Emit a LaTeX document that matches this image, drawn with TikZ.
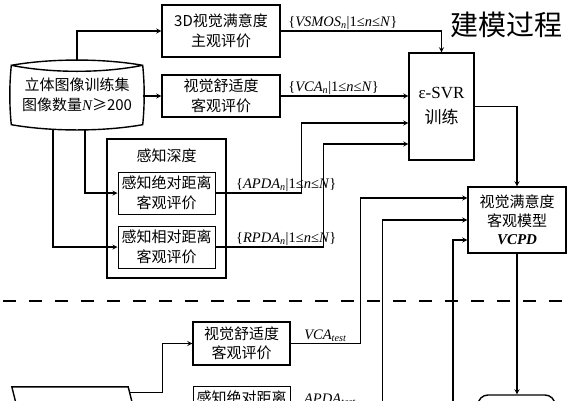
\documentclass[tikz,border=0pt]{standalone}
\usepackage{fontspec}
\setmainfont{Liberation Serif}
\newfontfamily\cjk{Noto Sans CJK SC}
\usetikzlibrary{positioning,calc,arrows}
\tikzstyle{block} = [draw, line width=1.4pt, rectangle, minimum width=118pt, minimum height=42pt, align=center, font=\fontsize{15}{19.5}\selectfont\cjk]
\tikzstyle{subblock} = [block, line width=1pt, minimum width=97pt]
\tikzstyle{arrow} = [line width=1.2pt,->,>=stealth]
\tikzstyle{setlabel} = [font=\fontsize{14.5}{16}\selectfont, inner sep=1pt]

\begin{document}
\begin{tikzpicture}[x=1pt,y=-1pt]
    \useasboundingbox (0,0) rectangle (576,400);
    \clip (0,0) rectangle (576,400);

    % modelling part
    \node[block, draw=none, minimum width=130pt, minimum height=58pt] (train) at (77,95) {立体图像训练集\\图像数量{\rmfamily\itshape N}≥200};
    \draw[line width=1.4pt] (train.north west) .. controls +(40,-7) and +(-40,-7) .. (train.north east)
        .. controls +(2,20) and +(2,-20) .. (train.south east)
        .. controls +(-40,7) and +(40,7) .. (train.south west)
        .. controls +(-2,-20) and +(-2,20) .. (train.north west)
        .. controls +(40,8) and +(-40,8) .. (train.north east);

    \node[block, minimum height=52pt] (subj) at (221,31) {3D视觉满意度\\主观评价};
    \node[block                     ] (comf) at (221,96) {视觉舒适度\\客观评价};

    \node[draw, line width=1.4pt, minimum width=119pt, minimum height=139pt] (depth) at (166.5,208.5) {};
    \node[font=\fontsize{15}{19.5}\selectfont\cjk, below=7pt of depth.north] (depthname) {感知深度};
    \node[subblock, minimum height=42pt] (abs) at (166.5,193) {感知绝对距离\\客观评价};
    \node[subblock, minimum height=42pt, below=11pt of abs] (rel) {感知相对距离\\客观评价};

    \node[block, minimum width=65pt, minimum height=107pt, font=\fontsize{17}{25}\selectfont] (svr) at (441.5,106.5) {ε-SVR\\{\cjk 训练}};
    \node[block, minimum width=98pt, minimum height=66pt, font=\fontsize{15}{18.5}\selectfont\cjk] (model) at (517,220) {视觉满意度\\客观模型\\{\rmfamily\bfseries\itshape VCPD}};

    \node[font=\fontsize{28}{30}\selectfont\cjk] (title) at (506,25) {建模过程};

    \draw[arrow] ([shift={(0,-5)}]train.north) |- (subj);
    \draw[arrow] (train.east |- comf) -- (comf);
    \draw[arrow] ([shift={(8,5)}]train.south) |- (abs);
    \draw[arrow] ([shift={(-24,4)}]train.south) |- (rel);

    \draw[arrow] (subj) -| (svr) node[pos=0, above right, setlabel, xshift=6pt] {\{\textit{VSMOS}\textsubscript{\textit{n}}|1≤\textit{n}≤\textit{N}\}};
    \draw[arrow] (comf) -- (comf -| svr.west) node[pos=0, above right, setlabel, xshift=6pt] {\{\textit{VCA}\textsubscript{\textit{n}}|1≤\textit{n}≤\textit{N}\}};
    \draw[arrow] (abs) -- ++(135,0) node[pos=0, above right, setlabel, xshift=19pt] {\{\textit{APDA}\textsubscript{\textit{n}}|1≤\textit{n}≤\textit{N}\}} |- ([yshift=-16.5pt]svr.west);
    \draw[arrow] (rel) -- ++(157,0) node[pos=0, above right, setlabel, xshift=19pt] {\{\textit{RPDA}\textsubscript{\textit{n}}|1≤\textit{n}≤\textit{N}\}} |- ([yshift=-37.5pt]svr.west);
    \draw[arrow] (svr) -| (model);

    \draw[line width=1.5pt, dash pattern=on 13pt off 13pt] (3,301) -- (572,301);

    % test part
    \node[minimum width=116pt, minimum height=50pt] (testset) at (70,412) {};
    \draw[line width=1.4pt] (testset.north west) -- (testset.north east) -- ++(12.5,50) -- ($(testset.north west)+(12.5,50)$) -- cycle;
    \node[block, minimum width=97pt, minimum height=43pt] (comftest) at (241.5,343.5) {视觉舒适度\\客观评价};
    \node[subblock, minimum height=43pt] (abstest) at (241.5,407.5) {感知绝对距离\\客观评价};
    \node[draw, line width=1.4pt, rounded corners=10pt, minimum width=77pt, minimum height=40pt] (result) at (516.5,415) {};
    \coordinate (rpdafoot) at (453,440);

    \draw[arrow] ($(testset.north east)+(1.5,6)$) -- ++(32.5,0) |- (comftest);
    \draw[arrow] (comftest) -- ++(119,0) node[pos=0, above right, setlabel, xshift=12pt] {\textit{VCA}\textsubscript{\textit{test}}} |- ([yshift=22pt]model.west);
    \draw[arrow] (abstest) -- ++(141,0) node[pos=0, above right, setlabel, xshift=12pt] {\textit{APDA}\textsubscript{\textit{test}}} |- (model.west);
    \draw[arrow] (rpdafoot) |- ([yshift=-20pt]model.west);
    \draw[arrow] (model) -- (model |- result.north);

\end{tikzpicture}
\end{document}
